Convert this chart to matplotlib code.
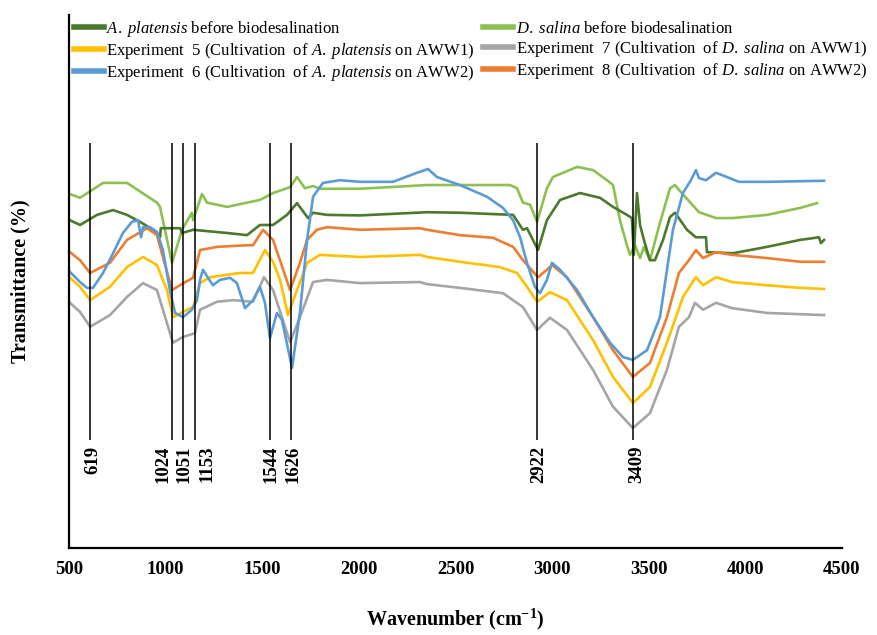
import matplotlib
matplotlib.use("Agg")
import matplotlib.pyplot as plt

plt.rcParams['font.family'] = ['Liberation Serif', 'DejaVu Serif']
plt.rcParams['mathtext.fontset'] = 'custom'
plt.rcParams['mathtext.rm'] = 'Liberation Serif'
plt.rcParams['mathtext.it'] = 'Liberation Serif:italic'
plt.rcParams['mathtext.bf'] = 'Liberation Serif:bold'

# ---- data (wavenumber, transmittance in arbitrary %) ----
ap_before_x = [505, 557, 645, 728, 800, 867, 935, 971, 975, 1075, 1085, 1142, 1318, 1421, 1488, 1556,
               1628, 1680, 1737, 1763, 1835, 2006, 2353, 2523, 2798, 2849, 2870, 2927, 2973, 3041,
               3144, 3248, 3315, 3387, 3413, 3423, 3439, 3455, 3475, 3506, 3532, 3574, 3610, 3636,
               3698, 3744, 3796, 3801, 3936, 4112, 4283, 4381, 4391, 4407]
ap_before_y = [61.5, 60.6, 62.5, 63.4, 62.5, 61.2, 59.7, 58.3, 60.0, 60.0, 59.1, 59.7, 59.1, 58.7, 60.6, 60.6,
               62.5, 64.7, 61.9, 62.9, 62.5, 62.4, 63.0, 62.9, 62.5, 59.7, 60.0, 55.9, 61.5, 65.3,
               66.6, 65.7, 64.0, 62.5, 61.9, 55.0, 66.6, 60.6, 57.8, 54.0, 54.0, 57.8, 62.1, 62.9,
               59.7, 58.3, 58.3, 55.5, 55.3, 56.5, 57.8, 58.3, 57.2, 57.8]

ds_before_x = [505, 557, 676, 800, 955, 971, 1033, 1085, 1136, 1142, 1188, 1214, 1318, 1488, 1556, 1644,
               1680, 1721, 1763, 1799, 2006, 2353, 2782, 2818, 2849, 2886, 2922, 2973, 3004, 3129,
               3212, 3284, 3315, 3351, 3387, 3403, 3429, 3455, 3475, 3506, 3558, 3610, 3636, 3656,
               3760, 3848, 3936, 4112, 4283, 4371]
ds_before_y = [66.4, 65.7, 68.5, 68.5, 64.8, 64.0, 53.5, 59.7, 62.9, 61.5, 66.4, 64.8, 64.0, 65.3, 66.6, 67.7,
               69.6, 67.5, 67.9, 67.4, 67.4, 68.1, 68.1, 67.5, 64.8, 64.4, 61.2, 67.5, 69.6, 71.5,
               70.9, 69.0, 68.1, 61.5, 56.8, 55.0, 56.8, 54.4, 56.5, 54.0, 61.0, 67.5, 68.1, 67.2,
               63.0, 61.9, 61.9, 62.5, 63.8, 64.7]

exp5_x = [505, 557, 609, 712, 800, 883, 955, 1007, 1038, 1090, 1142, 1178, 1230, 1385, 1452, 1514,
          1556, 1592, 1633, 1680, 1732, 1799, 2006, 2316, 2353, 2523, 2730, 2818, 2870, 2922,
          2989, 3077, 3212, 3315, 3418, 3506, 3594, 3677, 3744, 3781, 3848, 3931, 4112, 4283, 4407]
exp5_y = [50.7, 49.0, 46.5, 49.0, 52.7, 54.6, 53.1, 48.4, 43.3, 44.3, 45.2, 49.7, 50.8, 51.6, 51.6, 55.9,
          53.7, 50.3, 43.7, 48.4, 53.5, 55.0, 54.6, 55.0, 54.6, 53.7, 52.7, 51.6, 49.0, 46.2,
          48.0, 46.5, 39.0, 32.1, 27.2, 30.2, 38.5, 47.1, 50.8, 49.3, 50.8, 49.9, 49.3, 48.8, 48.6]

exp6_x = [505, 557, 593, 624, 676, 728, 779, 826, 857, 873, 883, 919, 955, 986, 1022, 1049, 1090,
          1136, 1162, 1178, 1193, 1219, 1245, 1281, 1333, 1369, 1411, 1452, 1488, 1514, 1540,
          1576, 1602, 1654, 1695, 1732, 1763, 1814, 1902, 2006, 2177, 2301, 2358, 2404, 2523,
          2663, 2746, 2798, 2834, 2870, 2911, 2937, 2973, 2999, 3041, 3129, 3212, 3300, 3367,
          3418, 3491, 3558, 3625, 3677, 3718, 3744, 3760, 3796, 3848, 3967, 4112, 4407]
exp6_y = [51.8, 49.9, 48.8, 48.8, 51.6, 55.3, 59.1, 61.2, 61.5, 58.3, 60.2, 60.2, 59.3, 55.9, 48.4, 44.1, 43.3,
          44.7, 46.5, 50.3, 52.2, 50.7, 49.3, 50.3, 50.7, 49.7, 45.0, 46.5, 49.0, 46.0, 39.4,
          44.1, 42.8, 33.8, 44.1, 57.8, 65.9, 68.5, 69.0, 68.7, 68.7, 70.4, 71.1, 69.6, 68.1,
          65.9, 63.8, 61.5, 58.3, 53.5, 49.0, 47.8, 50.3, 53.5, 52.2, 48.4, 43.3, 38.5, 35.8,
          35.3, 37.1, 43.3, 59.7, 66.6, 69.0, 70.9, 69.4, 69.0, 70.4, 68.7, 68.7, 68.9]

exp7_x = [505, 557, 609, 712, 800, 883, 955, 1007, 1038, 1090, 1152, 1178, 1266, 1349, 1452, 1509,
          1556, 1644, 1695, 1763, 1835, 2006, 2316, 2353, 2523, 2746, 2849, 2922, 2989, 3077,
          3212, 3315, 3418, 3506, 3594, 3656, 3708, 3739, 3781, 3848, 3931, 4112, 4407]
exp7_y = [46.0, 44.3, 41.5, 43.7, 47.1, 49.7, 48.4, 42.2, 38.5, 39.6, 40.3, 44.7, 46.2, 46.5, 46.2, 50.8,
          48.4, 38.6, 43.3, 49.9, 50.3, 49.7, 49.9, 49.5, 48.8, 47.8, 45.2, 40.9, 43.2, 40.9,
          33.4, 26.5, 22.5, 25.3, 33.4, 41.5, 43.3, 46.0, 44.7, 46.0, 45.0, 44.1, 43.7]

exp8_x = [505, 557, 609, 712, 800, 904, 955, 986, 1033, 1074, 1142, 1178, 1266, 1421, 1452, 1504,
          1556, 1644, 1695, 1732, 1783, 1835, 2006, 2316, 2353, 2523, 2694, 2798, 2849, 2927,
          2973, 2999, 3077, 3212, 3315, 3418, 3506, 3594, 3656, 3708, 3744, 3781, 3848, 3931,
          4112, 4283, 4407]
exp8_y = [55.5, 54.0, 51.6, 53.5, 57.8, 60.0, 58.7, 54.6, 48.4, 49.3, 50.7, 55.9, 56.5, 56.8, 56.8, 59.7,
          57.8, 48.4, 53.5, 57.8, 59.7, 60.2, 59.7, 60.0, 59.7, 58.7, 58.2, 56.5, 54.0, 50.8,
          52.2, 53.1, 50.8, 43.3, 37.1, 32.1, 34.7, 43.3, 51.6, 54.0, 55.9, 54.4, 55.5, 55.0,
          54.4, 53.7, 53.7]

peak_labels = ["619", "1024", "1051", "1153", "1544", "1626", "2922", "3409"]
peak_line_x = [609, 1033, 1090, 1152, 1540, 1649, 2922, 3418]
peak_label_x = [624, 986, 1095, 1214, 1545, 1659, 2932, 3439]

xticks = [500, 1000, 1500, 2000, 2500, 3000, 3500, 4000, 4500]

legend_labels = [
    r"$A.\ platensis$ before biodesalination",
    r"Experiment  5 (Cultivation  of $A.\ platensis$ on AWW1)",
    r"Experiment  6 (Cultivation  of $A.\ platensis$ on AWW2)",
    r"$D.\ salina$ before biodesalination",
    r"Experiment  7 (Cultivation  of $D.\ salina$ on AWW1)",
    r"Experiment  8 (Cultivation  of $D.\ salina$ on AWW2)",
]

c_dgreen = "#4b7a2c"
c_lgreen = "#8cc152"
c_yellow = "#ffc000"
c_blue = "#5b9bd5"
c_gray = "#a5a5a5"
c_orange = "#ed7d31"

fig = plt.figure(figsize=(8.78, 6.35), dpi=100)
ax = fig.add_axes([69/878, 87/635, 773/878, 533/635])

lw = 1.9
l_ds, = ax.plot(ds_before_x, ds_before_y, color=c_lgreen, lw=lw)
l_ap, = ax.plot(ap_before_x, ap_before_y, color=c_dgreen, lw=lw)
l_7, = ax.plot(exp7_x, exp7_y, color=c_gray, lw=lw)
l_5, = ax.plot(exp5_x, exp5_y, color=c_yellow, lw=lw)
l_8, = ax.plot(exp8_x, exp8_y, color=c_orange, lw=lw)
l_6, = ax.plot(exp6_x, exp6_y, color=c_blue, lw=lw)

ax.vlines(peak_line_x, 20.3, 76.0, color="black", lw=1.1, zorder=5)
for lab, xx in zip(peak_labels, peak_label_x):
    ax.text(xx, 19.2, lab, rotation=90, ha="center", va="top",
            fontsize=13.5, fontweight="bold")

ax.set_xlim(500, 4500)
ax.set_ylim(0, 100)
ax.set_xticks(xticks)
ax.set_xticklabels([str(t) for t in xticks], fontsize=13.5, fontweight="bold")
ax.tick_params(axis="x", length=0, pad=9)
ax.set_yticks([])
for s in ["top", "right"]:
    ax.spines[s].set_visible(False)
for s in ["left", "bottom"]:
    ax.spines[s].set_linewidth(1.6)
    ax.spines[s].set_color("black")

ax.set_ylabel("Transmittance (%)", fontsize=14.5, fontweight="bold", labelpad=28)
ax.set_xlabel(r"Wavenumber (cm$^{\mathbf{-1}}$)", fontsize=14.5, fontweight="bold", labelpad=21)

handles = [l_ap, l_5, l_6, l_ds, l_7, l_8]
leg = fig.legend(handles, legend_labels, loc="upper left", ncol=2,
                 bbox_to_anchor=(74/878, 1 - 19/635), frameon=False,
                 fontsize=12.0, handlelength=1.8, handletextpad=0.15,
                 columnspacing=0.5, labelspacing=0.12, borderpad=0, borderaxespad=0)
for h in leg.legend_handles:
    h.set_linewidth(4)

fig.savefig("out.png", dpi=100)
